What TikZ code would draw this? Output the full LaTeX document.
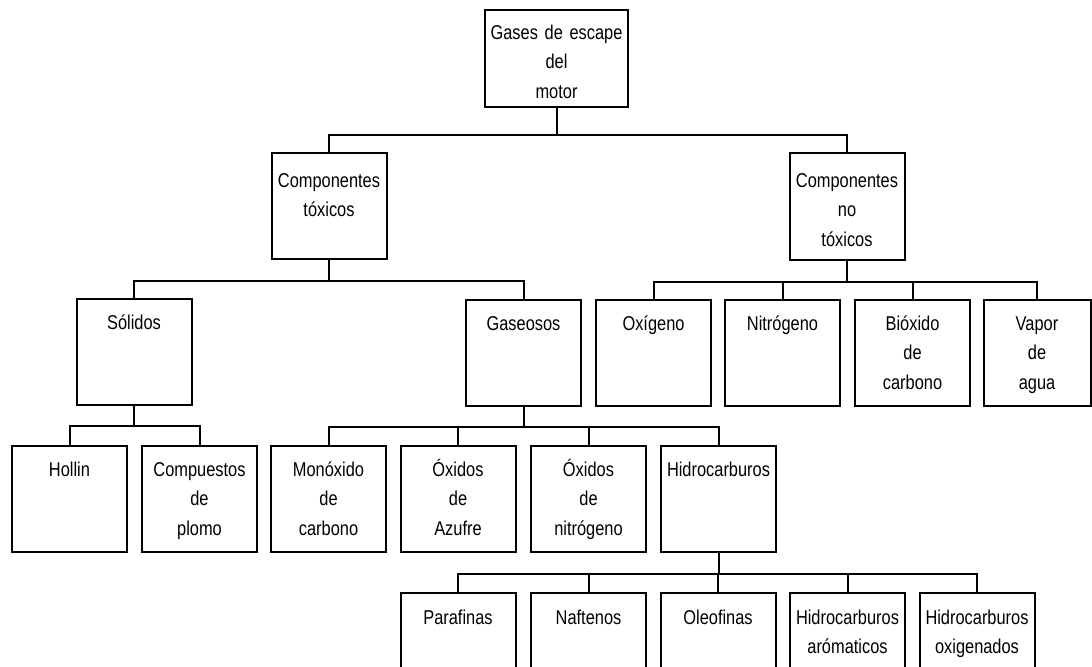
\documentclass[tikz,border=0pt]{standalone}
\usepackage{fontspec}
\setmainfont{Liberation Sans}[FakeStretch=0.82]

\begin{document}
\begin{tikzpicture}[x=0.5pt,y=0.5pt,yscale=-1,xscale=1,
  caja/.style={draw, line width=1pt, inner sep=0pt, align=center,
    text width=57.5pt, text height=15pt, text depth=38pt,
    font=\fontsize{10pt}{14.75pt}\selectfont},
  enlace/.style={line width=1pt}]
\path[use as bounding box, clip] (0,0) rectangle (1092,666);

% Text Node
\node [caja, text width=71.5pt, text height=14.5pt, text depth=34pt] (gases) at (556.5,58.5) {Gases de escape\\del\\motor};
% Text Node
\node [caja, text height=17pt, text depth=36pt] (toxicos) at (329,206) {Componentes\\tóxicos};
% Text Node
\node [caja, text height=17pt, text depth=36.5pt] (notoxicos) at (847,206.5) {Componentes\\no\\tóxicos};

% Text Node
\node [caja] (solidos) at (134,352) {Sólidos};
% Text Node
\node [caja] (gaseosos) at (523.5,353) {Gaseosos};
% Text Node
\node [caja] (oxigeno) at (653.5,353) {Oxígeno};
% Text Node
\node [caja] (nitrogeno) at (782.5,353) {Nitrógeno};
% Text Node
\node [caja] (bioxido) at (912.5,353) {Bióxido\\de\\carbono};
% Text Node
\node [caja, text width=53.5pt] (vapor) at (1037,353) {Vapor\\de\\agua};

% Text Node
\node [caja] (hollin) at (69.5,499) {Hollin};
% Text Node
\node [caja] (plomo) at (199.5,499) {Compuestos\\de\\plomo};
% Text Node
\node [caja] (monoxido) at (328.5,499) {Monóxido\\de\\carbono};
% Text Node
\node [caja] (azufre) at (458,499) {Óxidos\\de\\Azufre};
% Text Node
\node [caja] (oxnitro) at (588.5,499) {Óxidos\\de\\nitrógeno};
% Text Node
\node [caja] (hidro) at (718.5,499) {Hidrocarburos};

% Text Node
\node [caja, text height=15.5pt, text depth=34.5pt] (parafinas) at (458,643) {Parafinas};
% Text Node
\node [caja, text height=15.5pt, text depth=34.5pt] (naftenos) at (588.5,643) {Naftenos};
% Text Node
\node [caja, text height=15.5pt, text depth=34.5pt] (oleofinas) at (718,643) {Oleofinas};
% Text Node
\node [caja, text height=15.5pt, text depth=34.5pt] (aromaticos) at (847.5,643) {Hidrocarburos\\arómaticos};
% Text Node
\node [caja, text height=15.5pt, text depth=34.5pt] (oxigenados) at (977,643) {Hidrocarburos\\oxigenados};

%Straight Lines
\draw [enlace] (gases.south) -- ++(0,27) coordinate (barraA);
\draw [enlace] (toxicos.north) |- (barraA) -| (notoxicos.north);
%Straight Lines
\draw [enlace] (toxicos.south) -- ++(0,21) coordinate (barraB);
\draw [enlace] (solidos.north) |- (barraB) -| (gaseosos.north);
%Straight Lines
\draw [enlace] (notoxicos.south) -- ++(0,21) coordinate (barraC);
\foreach \hijo in {oxigeno,nitrogeno,bioxido,vapor}
  \draw [enlace] (barraC) -| (\hijo.north);
%Straight Lines
\draw [enlace] (solidos.south) -- ++(0,20) coordinate (barraD);
\draw [enlace] (hollin.north) |- (barraD) -| (plomo.north);
%Straight Lines
\draw [enlace] (gaseosos.south) -- ++(0,20) coordinate (barraE);
\foreach \hijo in {monoxido,azufre,oxnitro,hidro}
  \draw [enlace] (barraE) -| (\hijo.north);
%Straight Lines
\draw [enlace] (hidro.south) -- ++(0,21) coordinate (barraF);
\foreach \hijo in {parafinas,naftenos,oleofinas,aromaticos,oxigenados}
  \draw [enlace] (barraF) -| (\hijo.north);

\end{tikzpicture}
\end{document}
